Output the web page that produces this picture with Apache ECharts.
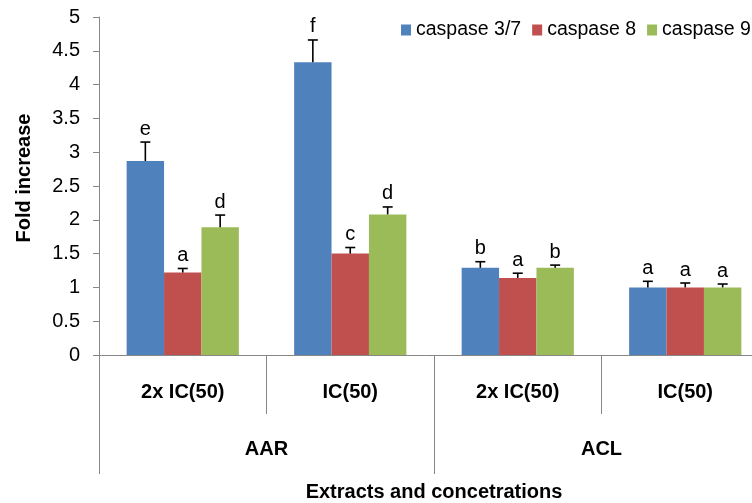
<!DOCTYPE html>
<html>
<head>
<meta charset="utf-8">
<script src="https://cdn.jsdelivr.net/npm/echarts@6/dist/echarts.min.js"></script>
<style>html,body{margin:0;padding:0;background:#fff;}#c{width:752px;height:503px;}</style>
</head>
<body>
<div id="c"></div>
<script>
var categories = ['2x IC(50)', 'IC(50)', '2x IC(50)', 'IC(50)'];
var extracts = ['AAR', 'ACL'];
var seriesNames = ['caspase 3/7', 'caspase 8', 'caspase 9'];
var caspase37 = [2.87, 4.33, 1.29, 1.00];
var caspase8 = [1.22, 1.50, 1.14, 1.00];
var caspase9 = [1.89, 2.08, 1.29, 1.00];
var err37 = [0.28, 0.33, 0.09, 0.09];
var err8 = [0.06, 0.09, 0.07, 0.065];
var err9 = [0.18, 0.11, 0.04, 0.05];
var letters37 = ['e', 'f', 'b', 'a'];
var letters8 = ['a', 'c', 'a', 'a'];
var letters9 = ['d', 'd', 'b', 'a'];
var yTicks = [0, 0.5, 1, 1.5, 2, 2.5, 3, 3.5, 4, 4.5, 5];

var FONT = "'Liberation Sans', Arial, sans-serif";
var colors = ['#4F81BD', '#C0504D', '#9BBB59'];
var axisColor = '#878787';
var catGap = 0.33;

function errSeries(idx, vals, errs, letters) {
  return {
    type: 'custom',
    name: 'err' + idx,
    z: 10,
    silent: true,
    data: vals.map(function (v, i) { return [i, v, errs[i]]; }),
    renderItem: function (params, api) {
      var cat = api.value(0), v = api.value(1), e = api.value(2);
      var base = api.coord([cat, v]);
      var top = api.coord([cat, v + e]);
      var band = api.size([1, 0])[0];
      var bw = band * (1 - catGap) / 3;
      var x = base[0] + (idx - 1) * bw;
      var lineStyle = { stroke: '#000', lineWidth: 1.6 };
      return {
        type: 'group',
        children: [
          { type: 'line', shape: { x1: x, y1: base[1], x2: x, y2: top[1] }, style: lineStyle },
          { type: 'line', shape: { x1: x - 5, y1: top[1], x2: x + 5, y2: top[1] }, style: lineStyle },
          { type: 'text', style: { text: letters[params.dataIndex], x: x, y: top[1] - 3, align: 'center', verticalAlign: 'bottom', fill: '#000', font: '20px ' + FONT } }
        ]
      };
    }
  };
}

var chart = echarts.init(document.getElementById('c'), null, { renderer: 'canvas' });
chart.setOption({
  animation: false,
  backgroundColor: '#fff',
  textStyle: { fontFamily: FONT },
  legend: {
    data: seriesNames,
    left: 401, top: 20, width: 400, orient: 'horizontal', padding: 0,
    itemWidth: 10, itemHeight: 11, itemGap: 11,
    icon: 'rect',
    textStyle: { fontSize: 19.5, color: '#000', fontFamily: FONT }
  },
  grid: { left: 99, top: 17, right: -17, height: 338, containLabel: false, outerBoundsMode: 'none' },
  xAxis: [
    {
      type: 'category', data: categories, position: 'bottom',
      axisLine: { show: true, lineStyle: { color: axisColor, width: 1 } },
      axisTick: { show: true, interval: 0, length: 59, alignWithLabel: false, lineStyle: { color: axisColor } },
      axisLabel: { interval: 0, margin: 27, fontSize: 20, fontWeight: 'bold', color: '#000', fontFamily: FONT },
      splitLine: { show: false }
    },
    {
      type: 'category', data: extracts, position: 'bottom',
      axisLine: { show: false },
      axisTick: { show: true, interval: 0, length: 119, alignWithLabel: false, lineStyle: { color: axisColor } },
      axisLabel: { interval: 0, margin: 84, fontSize: 20, fontWeight: 'bold', color: '#000', fontFamily: FONT },
      name: 'Extracts and concetrations', nameLocation: 'middle', nameGap: 127,
      nameTextStyle: { fontSize: 20, fontWeight: 'bold', color: '#000', fontFamily: FONT },
      splitLine: { show: false }
    }
  ],
  yAxis: {
    type: 'value', min: 0, max: 5, interval: 0.5,
    axisLine: { show: true, lineStyle: { color: axisColor, width: 1 } },
    axisTick: { show: true, length: 6, inside: false, lineStyle: { color: axisColor } },
    axisLabel: { margin: 19, fontSize: 20, color: '#000', fontFamily: FONT,
      formatter: function (v) { return yTicks.indexOf(v) >= 0 ? String(v) : ''; } },
    splitLine: { show: false }
  },
  graphic: [
    { type: 'text', x: 24, y: 178, rotation: Math.PI / 2,
      style: { text: 'Fold increase', align: 'center', verticalAlign: 'middle', font: 'bold 20px ' + FONT, fill: '#000' } }
  ],
  series: [
    { type: 'bar', name: seriesNames[0], data: caspase37, xAxisIndex: 0, barGap: '0%', barCategoryGap: '33%', itemStyle: { color: colors[0] } },
    { type: 'bar', name: seriesNames[1], data: caspase8, xAxisIndex: 0, barGap: '0%', barCategoryGap: '33%', itemStyle: { color: colors[1] } },
    { type: 'bar', name: seriesNames[2], data: caspase9, xAxisIndex: 0, barGap: '0%', barCategoryGap: '33%', itemStyle: { color: colors[2] } },
    errSeries(0, caspase37, err37, letters37),
    errSeries(1, caspase8, err8, letters8),
    errSeries(2, caspase9, err9, letters9)
  ]
});
</script>
</body>
</html>
